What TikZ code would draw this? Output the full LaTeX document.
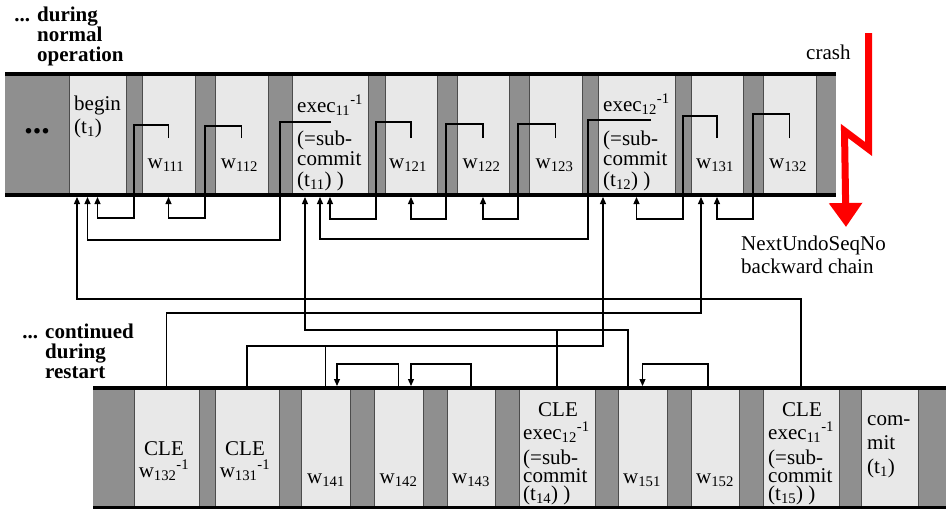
\documentclass[tikz,border=0pt]{standalone}
\usepackage{fontspec}
\setmainfont{Liberation Serif}
\usetikzlibrary{
	arrows.meta,
	calc
}
\usepackage{xcolor}

\definecolor{gapgray}{gray}{0.56}
\definecolor{cellgray}{gray}{0.91}
\definecolor{crashred}{rgb}{1,0,0}

\tikzset{
	cell/.style={draw=black!70,line width=0.8pt,fill=cellgray,
		inner sep=0pt,outer sep=0pt,minimum height=121pt},
	lowcell/.style={cell,minimum height=120pt},
	txt/.style={inner sep=0pt,font=\fontsize{21}{21}\selectfont},
	rowline/.style={line width=4pt},
	undolink/.style={line width=1.2pt,-{Triangle[width=6pt,length=7pt]},shorten >=2pt},
	plainlink/.style={line width=1.2pt}
}

\begin{document}
\lineskiplimit=-50pt
\begin{tikzpicture}[x=1pt,y=-1pt]
		\useasboundingbox (0,0) rectangle (946,509);
		
		%---------------- normal operation ----------------%
		
		\fill[gapgray] (5,74) rectangle (836,195);
		\foreach \nm/\xa/\xb in {begin/69/126,w111/142/195,w112/215/268,e11/292/368,
			w121/385/437,w122/457/509,w123/529/582,e12/598/675,w131/691/743,w132/763/816}
		\node[cell,minimum width={(\xb-\xa)*1pt}] (\nm) at ({(\xa+\xb)/2},134.5) {};
		\draw[rowline] (5,74) -- (836,74) (5,195) -- (836,195);
		
		% multi-line labels sit on the baseline of their last line
		\node[txt,font=\fontsize{34}{34}\selectfont\bfseries] (dots) at (37,131) {...};
		\node[txt,anchor=base west,align=left,font=\fontsize{21}{23}\selectfont] (lbegin) at (74,133)
		{begin\\(t\textsubscript{1})};
		\foreach \nm/\xc in {111/166,112/239.5,121/408,122/481.5,123/554.5,131/715,132/788}
		\node[txt,anchor=base] (lw\nm) at (\xc,168) {w\textsubscript{\nm}};
		\node[txt,anchor=base west,align=left,font=\fontsize{21}{20.5}\selectfont] (le11) at (297,186)
		{exec\textsubscript{11}\textsuperscript{-1}\\[12.5pt](=sub-\\commit\\(t\textsubscript{11}) )};
		\node[txt,anchor=base west,align=left,font=\fontsize{21}{20.5}\selectfont] (le12) at (603,186)
		{exec\textsubscript{12}\textsuperscript{-1}\\[13.5pt](=sub-\\commit\\(t\textsubscript{12}) )};
		
		\node[txt,anchor=base west,align=left,font=\fontsize{21}{20}\selectfont\bfseries] (normal) at (37,61)
		{\llap{... }during\\normal\\operation};
		
		%---------------- restart ----------------%
		
		\fill[gapgray] (93,388) rectangle (946,508);
		\foreach \nm/\xa/\xb in {c132/134/199,c131/215/279,w141/301/350,w142/374/423,w143/447/495,
			ce12/519/595,w151/618/667,w152/691/739,ce11/763/839,commit/861/918}
		\node[lowcell,minimum width={(\xb-\xa)*1pt}] (\nm) at ({(\xa+\xb)/2},448) {};
		\draw[rowline] (93,388) -- (946,388) (93,508) -- (946,508);
		
		\node[txt,anchor=base,align=center,font=\fontsize{21}{22}\selectfont] (lc132) at (164,477)
		{CLE\\w\textsubscript{132}\textsuperscript{-1}};
		\node[txt,anchor=base,align=center,font=\fontsize{21}{22}\selectfont] (lc131) at (245,477)
		{CLE\\w\textsubscript{131}\textsuperscript{-1}};
		\foreach \nm/\xc in {141/326,142/398.5,143/471,151/642,152/715}
		\node[txt,anchor=base] (lw\nm) at (\xc,483) {w\textsubscript{\nm}};
		\node[txt,anchor=base west,align=left,font=\fontsize{21}{18}\selectfont] (lce12) at (523,500)
		{\hspace*{15pt}CLE\\[5pt]exec\textsubscript{12}\textsuperscript{-1}\\[7pt](=sub-\\commit\\(t\textsubscript{14}) )};
		\node[txt,anchor=base west,align=left,font=\fontsize{21}{18}\selectfont] (lce11) at (768,500)
		{\hspace*{14pt}CLE\\[5pt]exec\textsubscript{11}\textsuperscript{-1}\\[7pt](=sub-\\commit\\(t\textsubscript{15}) )};
		\node[txt,anchor=base west,align=left,font=\fontsize{21}{24}\selectfont] (lcommit) at (867,473)
		{com-\\mit\\(t\textsubscript{1})};
		
		\node[txt,anchor=base west,align=left,font=\fontsize{21}{20}\selectfont\bfseries] (restart) at (45,378)
		{\llap{... }continued\\during\\restart};
		
		%---------------- undo chain ----------------%
		
		\coordinate (begin-in1) at ([xshift=-20.5pt]begin.south);
		\coordinate (begin-in2) at ([xshift=-10pt]begin.south);
		\coordinate (e11-in1) at ([xshift=-25pt]e11.south);
		\coordinate (e11-in2) at ([xshift=-10pt]e11.south);
		\coordinate (e12-in1) at ([xshift=-33.5pt]e12.south);
		\coordinate (w131-in1) at ([xshift=-16pt]w131.south);
		\coordinate (e11-out) at (331,122);
		\coordinate (e12-out) at (651,120);
		\coordinate (w141-in) at ([xshift=11.5pt]w141.north);
		\coordinate (w142-in) at ([xshift=12.5pt]w142.north);
		\coordinate (w151-out) at ([xshift=-14.5pt]w151.north);
		\coordinate (w152-out) at ([xshift=-7pt]w152.north);
		
		\draw[undolink] (w111.center |- 0,138) |- (134,125) |- (begin.center |- 0,218) -- (begin.south);
		\draw[undolink] (w112.center |- 0,138) |- (205,126) |- (w111.center |- 0,218) -- (w111.south);
		\draw[undolink] (e11-out) -| (280,240) -| (begin-in2);
		\draw[undolink] (w121.center |- 0,138) |- (376,122) |- (e11.center |- 0,219) -- (e11.south);
		\draw[undolink] (w122.center |- 0,138) |- (446,124) |- (w121.center |- 0,219) -- (w121.south);
		\draw[undolink] (w123.center |- 0,138) |- (518,124) |- (w122.center |- 0,219) -- (w122.south);
		\draw[undolink] (e12-out) -| (588,239) -| (e11-in2);
		\draw[undolink] (w131.center |- 0,138) |- (683,116) |- (e12.center |- 0,219) -- (e12.south);
		\draw[undolink] (w132.center |- 0,138) |- (753,114) |- (w131.center |- 0,219) -- (w131.south);
		
		\draw[undolink] (ce11.north) |- (begin-in1 |- 0,299) -- (begin-in1);
		\draw[undolink] (c132.north) |- (w131-in1 |- 0,313) -- (w131-in1);
		\draw[undolink] (ce12.north) |- (e11-in1 |- 0,330) -- (e11-in1);
		\draw[plainlink] (w151-out) |- (ce12.north |- 0,330);
		\draw[undolink] (c131.north) |- (e12-in1 |- 0,346) -- (e12-in1);
		\draw[plainlink] (w141.north) -- (w141.north |- 0,346);
		\draw[undolink] (w142.north) |- (w141-in |- 0,364) -- (w141-in);
		\draw[undolink] (w143.north) |- (w142-in |- 0,364) -- (w142-in);
		\draw[undolink] (w152-out) |- (w151.north |- 0,364) -- (w151.north);
		
		%---------------- crash ----------------%
		
		\draw[crashred,line width=7pt,line join=miter,-{Triangle[width=32pt,length=24pt]}]
		(868.5,33) -- (868.5,149) -- (844.5,131) -- (846,227);
		\node[txt,anchor=base west] (crash) at (806,59) {crash};
		\node[txt,anchor=base west,align=left,font=\fontsize{21}{23}\selectfont] (nextundo) at (741,273)
		{NextUndoSeqNo\\backward chain};
		
	\end{tikzpicture}
\end{document}
